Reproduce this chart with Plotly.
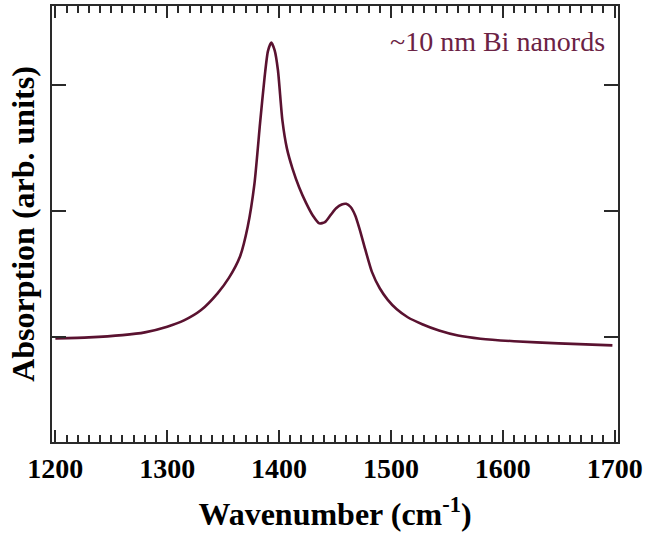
import plotly.graph_objects as go

# Spectrum
wavenumber = [1200, 1230, 1260, 1280, 1300, 1315, 1330, 1345, 1355, 1365, 1372, 1378,
              1383, 1387, 1390, 1393, 1396, 1399, 1403, 1407, 1412, 1418, 1424, 1430,
              1436, 1441, 1446, 1451, 1456, 1460, 1464, 1468, 1472, 1477, 1483, 1490,
              1497, 1505, 1515, 1528, 1543, 1560, 1580, 1610, 1650, 1698]
absorption = [-0.008, 0.0, 0.018, 0.04, 0.085, 0.135, 0.215, 0.35, 0.47, 0.64, 0.88, 1.22,
              1.70, 2.06, 2.27, 2.34, 2.28, 2.12, 1.72, 1.50, 1.34, 1.19, 1.07, 0.97,
              0.905, 0.915, 0.97, 1.025, 1.055, 1.06, 1.035, 0.97, 0.86, 0.70, 0.52, 0.39,
              0.30, 0.225, 0.16, 0.105, 0.055, 0.015, -0.01, -0.03, -0.047, -0.063]

x_ticks = [1200, 1300, 1400, 1500, 1600, 1700]
y_ticks = [0, 1, 2]
label_text = "~10 nm Bi nanords"
x_title = "Wavenumber (cm<sup>-1</sup>)"
y_title = "Absorption (arb. units)"

serif = "Liberation Serif, Times New Roman, serif"
line_col = "#5a1230"
frame_col = "#2a2a2a"

fig = go.Figure()
fig.add_trace(go.Scatter(
    x=wavenumber, y=absorption, mode="lines",
    line=dict(color=line_col, width=2.6, shape="spline", smoothing=0.6),
    showlegend=False,
))

fig.update_layout(
    width=647, height=546,
    margin=dict(l=52, r=29, t=4, b=104),
    paper_bgcolor="white", plot_bgcolor="white",
    font=dict(family=serif, color="black"),
    xaxis=dict(
        range=[1197, 1703],
        tickvals=x_ticks,
        ticks="inside", ticklen=12, tickwidth=2, tickcolor=frame_col,
        minor=dict(dtick=10, ticks="inside", ticklen=7, tickwidth=1.6, tickcolor=frame_col),
        showline=True, linecolor=frame_col, linewidth=2, mirror="ticks",
        showgrid=False, zeroline=False,
        tickfont=dict(family=serif, size=28, color="black", weight="bold"),
        title=dict(text=x_title, font=dict(family=serif, size=32, color="black", weight="bold"),
                   standoff=20),
    ),
    yaxis=dict(
        range=[-0.83, 2.63],
        tickvals=y_ticks, showticklabels=False,
        ticks="inside", ticklen=14, tickwidth=2, tickcolor=frame_col,
        showline=True, linecolor=frame_col, linewidth=2, mirror="ticks",
        showgrid=False, zeroline=False,
        title=dict(text=y_title, font=dict(family=serif, size=32, color="black", weight="bold"),
                   standoff=6),
    ),
    annotations=[dict(
        text=label_text, xref="paper", yref="paper",
        x=0.981, y=0.918, xanchor="right", yanchor="middle", showarrow=False,
        font=dict(family=serif, size=28, color="#6b2244"),
    )],
)

fig.write_html("out.html")
